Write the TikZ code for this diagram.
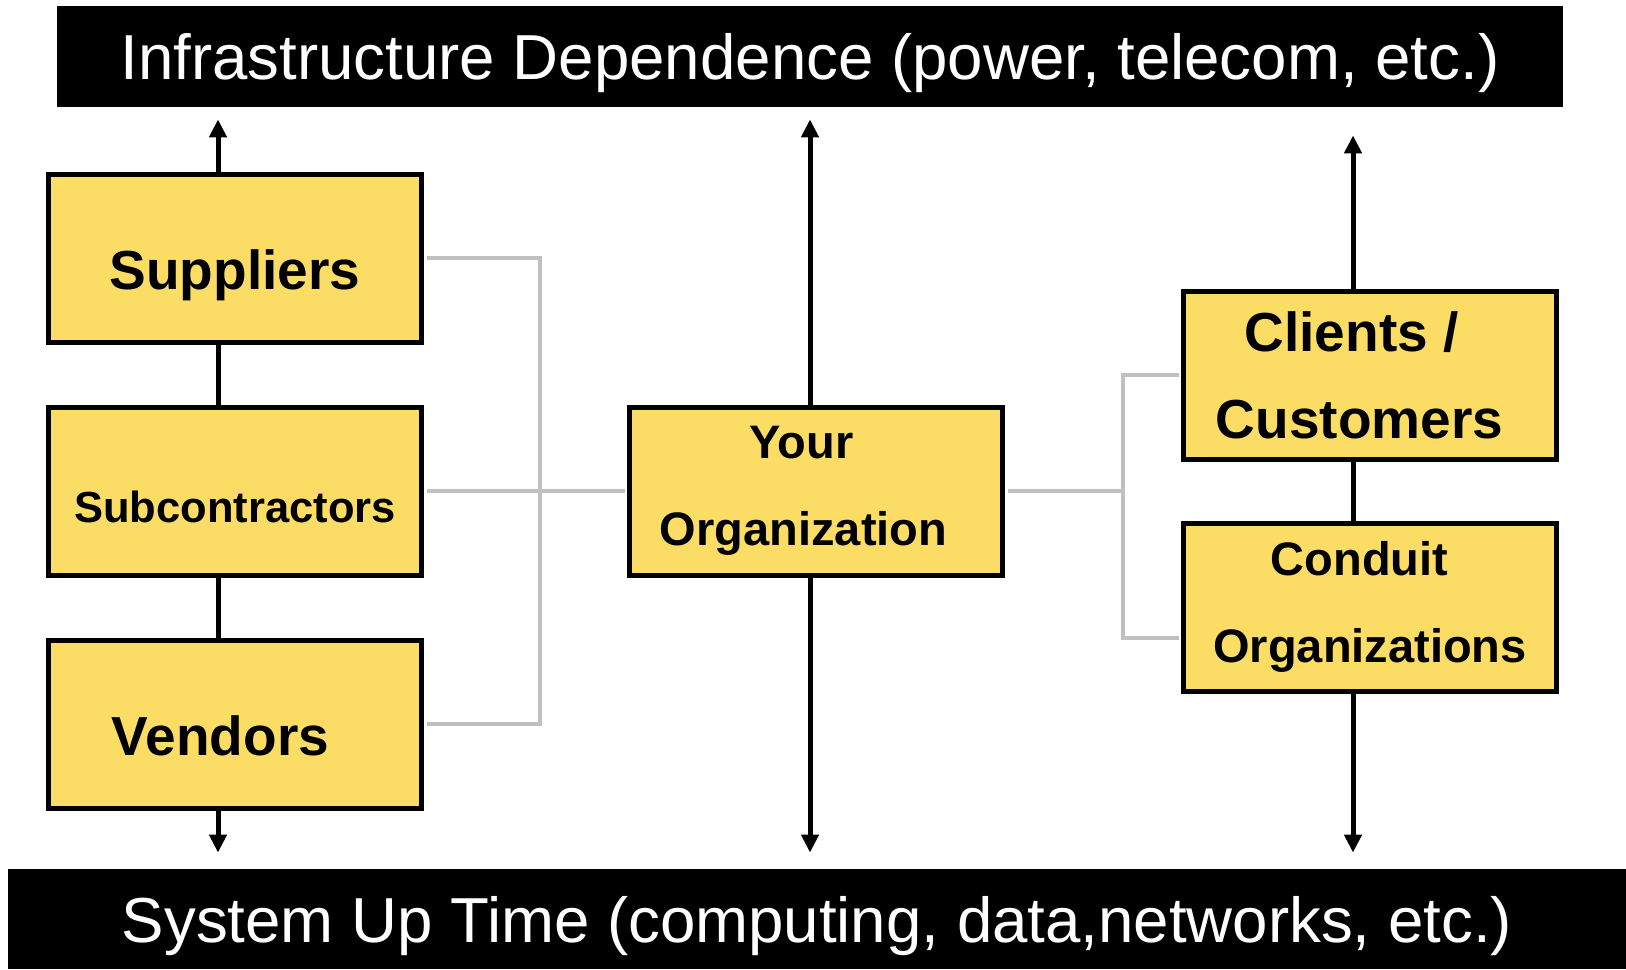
\documentclass[tikz,border=0pt]{standalone}
\usepackage{fontspec}
\setmainfont{Liberation Sans}
\definecolor{myyellow}{RGB}{251,221,102}
\definecolor{mygray}{RGB}{192,192,192}
\usetikzlibrary{arrows.meta,positioning}

\begin{document}
\begin{tikzpicture}[
  x=0.5pt, y=-0.5pt,
  bar/.style={
    fill=black,
    text=white,
    inner sep=0pt,
    text depth=0pt,
    font=\fontsize{31.8pt}{38pt}\selectfont
    },
  orgbox/.style={
    draw,
    line width=2.5pt,
    fill=myyellow,
    minimum width=186.5pt,
    minimum height=84pt,
    inner sep=0pt,
    align=center,
    font=\bfseries\fontsize{#1}{43.5pt}\selectfont
    },
  orgbox/.default=27.5pt,
  oneline/.style={
    text height=31pt,
    text depth=0pt
    },
  flow/.style={
    line width=2.5pt,
    -{Triangle[width=8.5pt,length=9pt]}
    },
  link/.style={
    draw=mygray,
    line width=1.7pt,
    shorten <=1.25pt,
    shorten >=1.25pt
    }
]
\useasboundingbox (0,0) rectangle (1626,969);

\node[bar, minimum width=753pt, minimum height=50.5pt] (infra) at (810,56.5)
  {Infrastructure Dependence (power, telecom, etc.)};
\node[bar, minimum width=809pt, minimum height=50pt] (uptime) at (817,919)
  {System Up Time (computing, data,networks, etc.)};

\node[orgbox, oneline] (sup) at (235,258) {Suppliers};
\node[orgbox=21.75pt, oneline] [below=30pt of sup] (sub) {Subcontractors};
\node[orgbox, oneline] [below=30pt of sub] (ven) {\hspace*{-14.5pt}Vendors};

\node[orgbox=23.5pt] (org) at (816,491)
  {\hspace*{-14.5pt}Your\\\hspace*{-12.5pt}Organization};

\node[orgbox] (cli) at (1370,375)
  {\hspace*{-18.5pt}Clients /\\\hspace*{-10.5pt}Customers};
\node[orgbox=23.5pt] [below=29.5pt of cli] (con)
  {\hspace*{-10.5pt}Conduit\\Organizations};

\coordinate (lx) at (218,0);
\coordinate (mx) at (810,0);
\coordinate (rx) at (1353,0);
\coordinate (lbus) at (540,0);
\coordinate (rbus) at (1123,0);

% gray links
\draw[link] (sup.east) -- (sup.east -| lbus) -- (ven.east -| lbus) -- (ven.east);
\draw[link] (sub.east) -- (org.west);
\draw[link, shorten >=0pt] (org.east) -- (org.east -| rbus);
\draw[link] (cli.west) -- (cli.west -| rbus) -- ([yshift=-15.5pt]con.west -| rbus)
  -- ([yshift=-15.5pt]con.west);

% left column
\draw[flow, shorten >=6pt] (sup.north -| lx) -- (infra.south -| lx);
\draw[line width=2.5pt] (sup.south -| lx) -- (sub.north -| lx);
\draw[line width=2.5pt] (sub.south -| lx) -- (ven.north -| lx);
\draw[flow, shorten >=8pt] (ven.south -| lx) -- (uptime.north -| lx);

% middle
\draw[flow, shorten >=6pt] (org.north -| mx) -- (infra.south -| mx);
\draw[flow, shorten >=8pt] (org.south -| mx) -- (uptime.north -| mx);

% right column
\draw[flow, shorten >=14pt] (cli.north -| rx) -- (infra.south -| rx);
\draw[line width=2.5pt] (cli.south -| rx) -- (con.north -| rx);
\draw[flow, shorten >=8pt] (con.south -| rx) -- (uptime.north -| rx);
\end{tikzpicture}
\end{document}
